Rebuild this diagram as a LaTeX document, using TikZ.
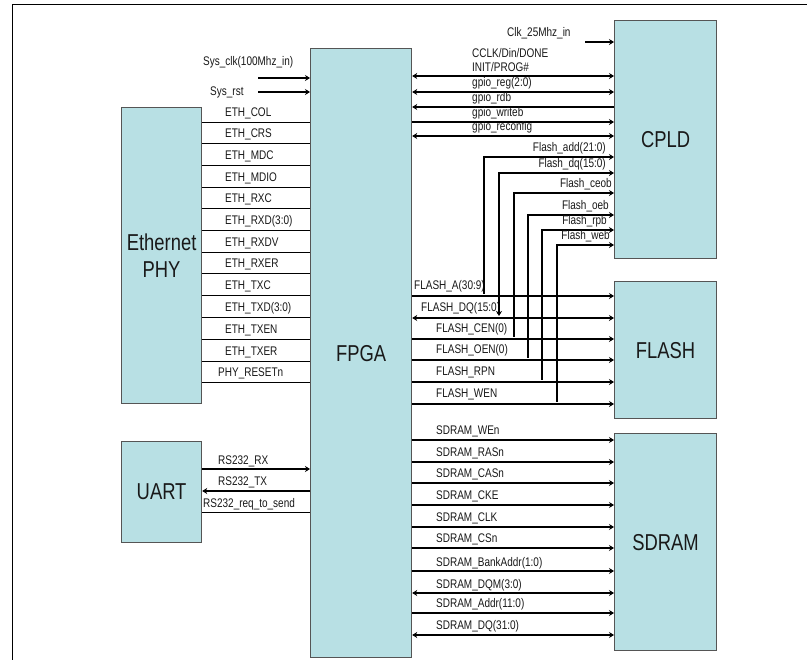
\documentclass[tikz,border=0pt]{standalone}
\usepackage{fontspec}
\setmainfont{Liberation Sans}[FakeStretch=0.8]
\usetikzlibrary{arrows.meta}
\definecolor{boxfill}{RGB}{184,224,228}
\definecolor{boxline}{RGB}{85,85,85}
\definecolor{txt}{RGB}{25,25,25}
\begin{document}
\begin{tikzpicture}[x=1pt,y=-1pt,
  box/.style={draw=boxline, line width=1.2pt, fill=boxfill, anchor=north west, inner sep=0pt,
    align=center, font=\fontsize{23}{27}\selectfont, text=txt},
  lbl/.style={font=\fontsize{12.5}{14}\selectfont, text=txt, inner sep=0pt},
  thk/.style={line width=1.8pt},
  thn/.style={line width=0.9pt},
  aR/.style={-{Stealth[length=5pt,width=6pt]}},
  aL/.style={{Stealth[length=5pt,width=6pt]}-},
  aB/.style={{Stealth[length=5pt,width=6pt]}-{Stealth[length=5pt,width=6pt]}},
  aN/.style={-}
]
\useasboundingbox (0,0) rectangle (807,660);
\fill[white] (0,0) rectangle (807,660);
\draw[line width=1pt] (12,660) -- (12,5) -- (807,5);

% blocks
\node[box, minimum width=101pt, minimum height=609pt] (fpga) at (310,48) {FPGA};
\node[box, minimum width=80pt, minimum height=296pt] (phy) at (121,107) {Ethernet\\PHY};
\node[box, minimum width=80pt, minimum height=101pt] (uart) at (121,441) {UART};
\node[box, minimum width=102pt, minimum height=238pt] (cpld) at (614,20) {CPLD};
\node[box, minimum width=102pt, minimum height=137pt] (flash) at (614,281) {FLASH};
\node[box, minimum width=102pt, minimum height=217pt] (sdram) at (614,433) {SDRAM};

% system inputs
\coordinate (sclk) at (258,78);
\coordinate (srst) at (258,92);
\coordinate (c25) at (585,42);
\draw[thk,aR] (sclk) -- (sclk -| fpga.west);
\draw[thk,aR] (srst) -- (srst -| fpga.west);
\draw[thk,aR] (c25) -- (c25 -| cpld.west);
\node[lbl, anchor=base west] (lsclk) at (203,66) {Sys\_clk(100Mhz\_in)};
\node[lbl, anchor=base west] (lsrst) at (210,96) {Sys\_rst};
\node[lbl, anchor=base west] (lc25) at (507,37) {Clk\_25Mhz\_in};

% Ethernet lines
\foreach \y/\t/\x [count=\i] in {122/ETH\_COL/225, 143/ETH\_CRS/225, 165/ETH\_MDC/225,
  187/ETH\_MDIO/225, 208/ETH\_RXC/225, 230/ETH\_RXD(3:0)/225, 252/ETH\_RXDV/225,
  273/ETH\_RXER/225, 295/ETH\_TXC/225, 317/ETH\_TXD(3:0)/225, 339/ETH\_TXEN/225,
  361/ETH\_TXER/225, 382/PHY\_RESETn/218} {
  \coordinate (eh\i) at (0,\y);
  \draw[thn] (eh\i -| phy.east) -- (eh\i -| fpga.west);
  \node[lbl, anchor=base west] (el\i) at (\x,\y-5) {\t};
}

% UART lines
\coordinate (urx) at (0,469);
\coordinate (utx) at (0,491);
\coordinate (urq) at (0,512);
\draw[thk,aR] (urx -| uart.east) -- (urx -| fpga.west);
\draw[thk,aR] (utx -| fpga.west) -- (utx -| uart.east);
\draw[thn] (urq -| uart.east) -- (urq -| fpga.west);
\node[lbl, anchor=base west] (lurx) at (218,465) {RS232\_RX};
\node[lbl, anchor=base west] (lutx) at (218,486) {RS232\_TX};
\node[lbl, anchor=base west] (lurq) at (203,508) {RS232\_req\_to\_send};

% FPGA - CPLD lines
\foreach \y/\s [count=\i] in {76/aB, 92/aB, 107/aL, 122/aR, 136/aB} {
  \coordinate (ch\i) at (0,\y);
  \draw[thk,\s] (ch\i -| fpga.east) -- (ch\i -| cpld.west);
}
\node[lbl, anchor=base west] (lc1) at (472,58) {CCLK/Din/DONE};
\node[lbl, anchor=base west] (lc2) at (472,72) {INIT/PROG\#};
\node[lbl, anchor=base west] (lc3) at (472,87) {gpio\_reg(2:0)};
\node[lbl, anchor=base west] (lc4) at (472,102) {gpio\_rdb};
\node[lbl, anchor=base west] (lc5) at (472,117) {gpio\_writeb};
\node[lbl, anchor=base west] (lc6) at (472,131) {gpio\_reconfig};

% FPGA - FLASH lines
\foreach \y/\s/\t/\x [count=\i] in {296/aR/FLASH\_A(30:9)/414, 318/aB/FLASH\_DQ(15:0)/421,
  339/aR/FLASH\_CEN(0)/436, 360/aR/FLASH\_OEN(0)/436, 382/aR/FLASH\_RPN/436, 404/aR/FLASH\_WEN/436} {
  \coordinate (fh\i) at (0,\y);
  \draw[thk,\s] (fh\i -| fpga.east) -- (fh\i -| flash.west);
  \node[lbl, anchor=base west] (fl\i) at (\x,\y-6) {\t};
}

% CPLD - FLASH taps
\foreach \y/\x/\ty/\s/\t/\lx/\ly [count=\i] in {157/484/296/aR/Flash\_add(21:0)/606/152,
  173/499/318/aB/Flash\_dq(15:0)/606/168, 193/514/339/aR/Flash\_ceob/612/188,
  215/528/360/aR/Flash\_oeb/609/210, 230/542/382/aR/Flash\_rpb/607/225,
  245/557/404/aR/Flash\_web/610/240} {
  \coordinate (kh\i) at (0,\y);
  \coordinate (kc\i) at (\x,\y);
  \coordinate (kt\i) at (\x,\ty-2);
  \draw[thk,\s] (kt\i) -- (kc\i) -- (kh\i -| cpld.west);
  \node[lbl, anchor=base east] (kl\i) at (\lx,\ly) {\t};
}

% FPGA - SDRAM lines
\foreach \y/\s/\t [count=\i] in {440/aR/SDRAM\_WEn, 462/aR/SDRAM\_RASn, 483/aR/SDRAM\_CASn,
  505/aR/SDRAM\_CKE, 527/aR/SDRAM\_CLK, 548/aR/SDRAM\_CSn, 571/aR/SDRAM\_BankAddr(1:0),
  593/aB/SDRAM\_DQM(3:0), 613/aR/SDRAM\_Addr(11:0), 635/aB/SDRAM\_DQ(31:0)} {
  \coordinate (sh\i) at (0,\y);
  \draw[thk,\s] (sh\i -| fpga.east) -- (sh\i -| sdram.west);
  \node[lbl, anchor=base west] (sl\i) at (436,\y-5) {\t};
}
\end{tikzpicture}
\end{document}
